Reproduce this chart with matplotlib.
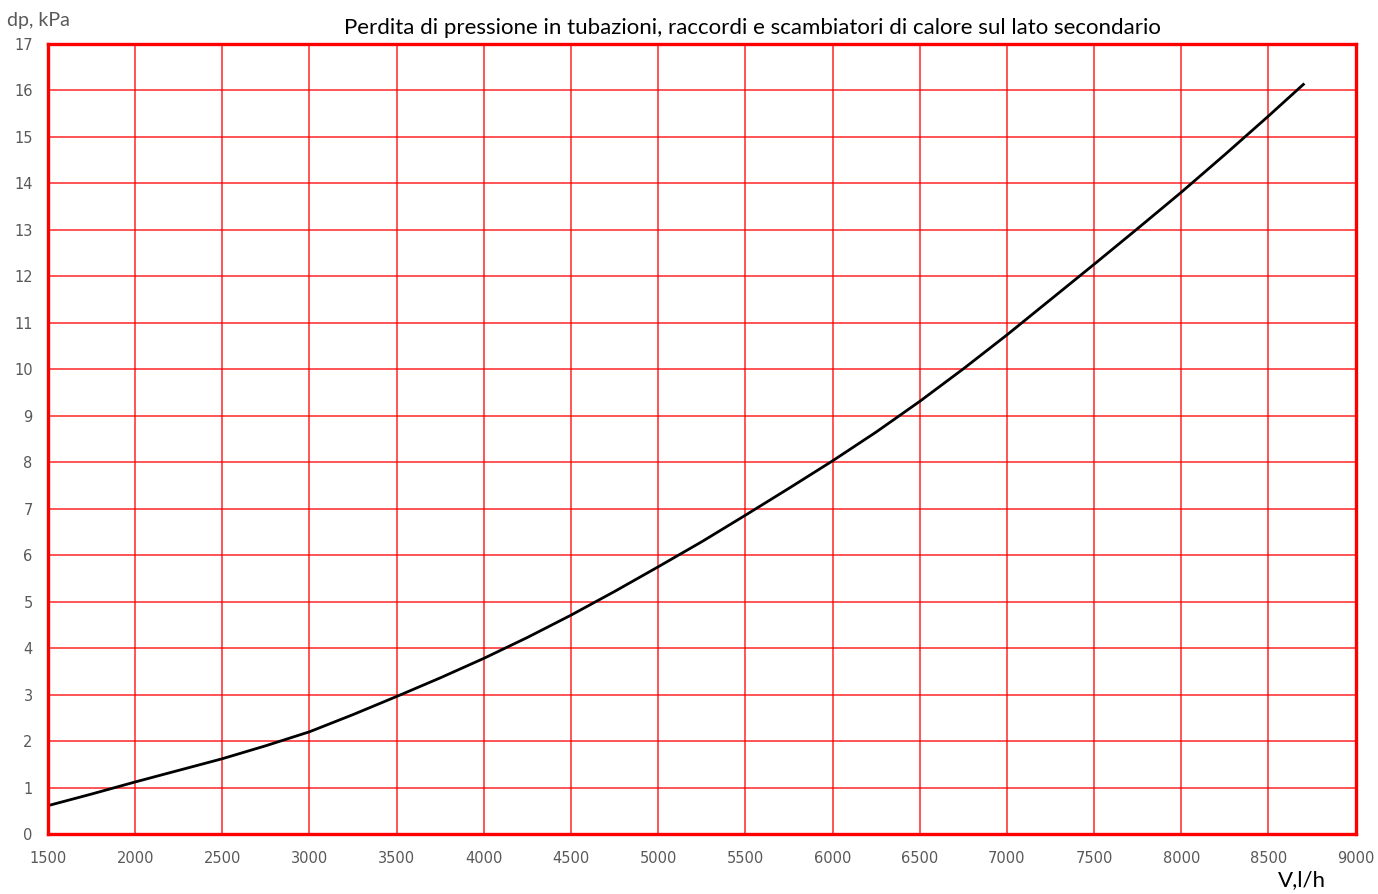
import matplotlib
matplotlib.use("Agg")
import matplotlib.pyplot as plt

# flow rate [l/h] and pressure loss [kPa]
flow = [1500, 1750, 2000, 2250, 2500, 2750, 3000, 3250, 3500, 3750,
        4000, 4250, 4500, 4750, 5000, 5250, 5500, 5750, 6000, 6250,
        6500, 6750, 7000, 7250, 7500, 7750, 8000, 8250, 8500, 8700]
dp = [0.61, 0.86, 1.12, 1.37, 1.62, 1.9, 2.2, 2.57, 2.96, 3.36,
      3.78, 4.23, 4.71, 5.22, 5.75, 6.29, 6.86, 7.44, 8.03, 8.65,
      9.31, 10.01, 10.74, 11.5, 12.26, 13.03, 13.81, 14.62, 15.45, 16.13]
xticks = list(range(1500, 9001, 500))
yticks = list(range(0, 18))

RED = "#ff0000"
GRAY = "#595959"

fig = plt.figure(figsize=(13.78, 8.94), dpi=100)
ax = fig.add_axes([0.0348, 0.0671, 0.949, 0.8837])

ax.plot(flow, dp, color="black", lw=2.0, solid_joinstyle="round")

ax.set_xlim(1500, 9000)
ax.set_ylim(0, 17)
ax.set_xticks(xticks)
ax.set_yticks(yticks)
ax.grid(True, color=RED, lw=1.1, alpha=0.85)
ax.set_axisbelow(True)
for s in ax.spines.values():
    s.set_color(RED)
    s.set_linewidth(2.4)
ax.tick_params(length=0, labelsize=10.5, labelcolor=GRAY)
ax.tick_params(axis="x", pad=12)
ax.tick_params(axis="y", pad=11)

fig.text(0.5457, 0.969,
         "Perdita di pressione in tubazioni, raccordi e scambiatori di calore sul lato secondario",
         fontsize=16, family="Lato", ha="center", va="center")
fig.text(0.005, 0.977, "dp, kPa", fontsize=14, color=GRAY, family="Lato", va="center")
fig.text(0.9275, 0.0155, "V,l/h", fontsize=16, family="Lato", va="center")

fig.savefig("out.png", dpi=100)
